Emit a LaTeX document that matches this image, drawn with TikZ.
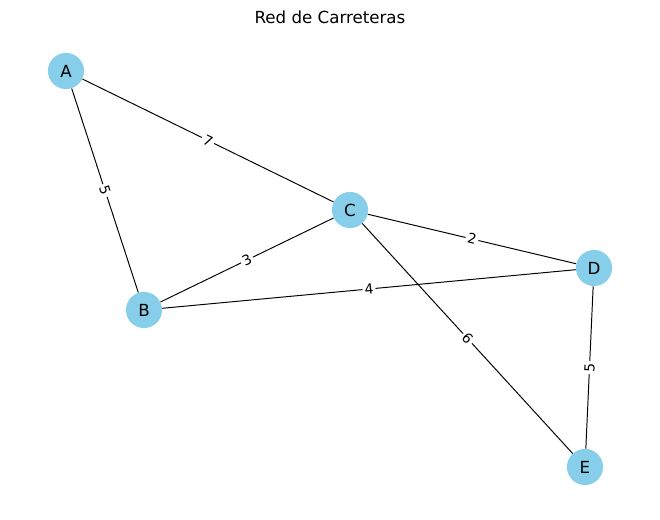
\documentclass[tikz,border=0pt]{standalone}
\usepackage{fontspec}
\setmainfont{DejaVu Sans}
\usetikzlibrary{positioning}
\definecolor{skyblue}{RGB}{135,206,235}
\tikzset{
	city/.style={circle, fill=skyblue, minimum size=26pt, inner sep=0pt, font=\fontsize{12}{14}\selectfont},
	road/.style={black, line width=0.7pt},
	dist/.style={fill=white, inner sep=1.5pt, sloped, font=\fontsize{10}{12}\selectfont}
}

\begin{document}
\begin{tikzpicture}[x=0.72pt, y=-0.72pt]
	\useasboundingbox (0,0) rectangle (660,520);
	\node (title) at (330,17) {\fontsize{12}{14}\selectfont Red de Carreteras};
	
	\node[city] (a) at (66,71)   {A};
	\node[city] (b) at (144,310) {B};
	\node[city] (c) at (350,210) {C};
	\node[city] (d) at (594,268) {D};
	\node[city] (e) at (585,467) {E};
	
	\draw[road] (a) -- node[dist] {7} (c);
	\draw[road] (a) -- node[dist] {5} (b);
	\draw[road] (b) -- node[dist] {3} (c);
	\draw[road] (c) -- node[dist] {2} (d);
	\draw[road] (b) -- node[dist] {4} (d);
	\draw[road] (c) -- node[dist] {6} (e);
	\draw[road] (d) -- node[dist] {5} (e);
\end{tikzpicture}
\end{document}
